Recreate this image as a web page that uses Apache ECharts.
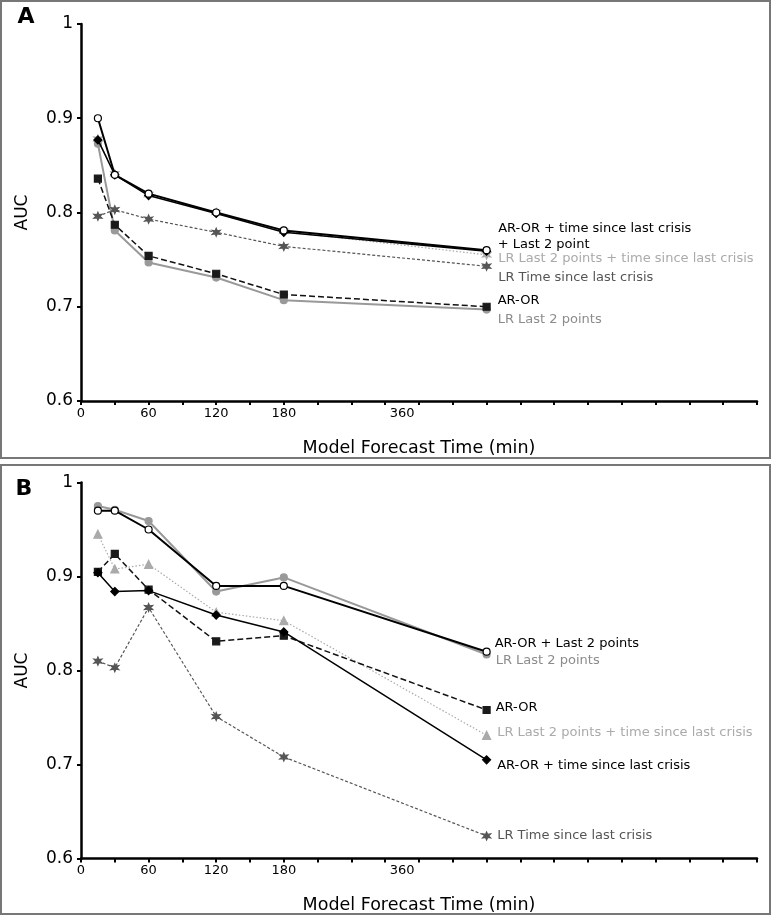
<!DOCTYPE html>
<html>
<head>
<meta charset="utf-8">
<script src="https://cdn.jsdelivr.net/npm/echarts@6/dist/echarts.min.js"></script>
<style>
html,body{margin:0;padding:0;background:#fff;}
#chart{width:772px;height:916px;}
</style>
</head>
<body>
<div id="chart"></div>
<script>
// ---- data ----
const timesMin = [15, 30, 60, 120, 180, 360];
const xTickLabelValues = [0, 60, 120, 180];
const displaced360Label = '360';

// Panel A
const a_arorLast2 = [0.900, 0.840, 0.820, 0.800, 0.781, 0.760];
const a_arorTime = [0.877, 0.840, 0.818, 0.799, 0.779, 0.759];
const a_lrLast2Time = [0.878, 0.841, 0.819, 0.800, 0.780, 0.755];
const a_lrTime = [0.796, 0.803, 0.793, 0.779, 0.764, 0.743];
const a_aror = [0.836, 0.787, 0.754, 0.735, 0.713, 0.700];
const a_lrLast2 = [0.873, 0.781, 0.747, 0.731, 0.707, 0.697];

// Panel B
const b_arorLast2 = [0.970, 0.970, 0.950, 0.890, 0.890, 0.820];
const b_lrLast2 = [0.975, 0.971, 0.959, 0.884, 0.899, 0.817];
const b_lrLast2Time = [0.945, 0.908, 0.913, 0.862, 0.853, 0.731];
const b_aror = [0.905, 0.924, 0.886, 0.831, 0.837, 0.758];
const b_arorTime = [0.904, 0.884, 0.885, 0.859, 0.841, 0.705];
const b_lrTime = [0.810, 0.803, 0.867, 0.751, 0.708, 0.624];

// ---- styling helpers ----
const FONT = 'DejaVu Sans';
function starPath(n, inner) {
  let d = '';
  for (let i = 0; i < n * 2; i++) {
    const r = i % 2 === 0 ? 1 : inner;
    const a = Math.PI / 2 + i * Math.PI / n;
    const x = (r * Math.cos(a)).toFixed(3), y = (-r * Math.sin(a)).toFixed(3);
    d += (i === 0 ? 'M' : 'L') + x + ' ' + y + ' ';
  }
  return 'path://' + d + 'Z';
}
const STAR = starPath(6, 0.45);

const ST = {
  arorLast2: {symbol: 'circle', size: 7, fill: '#fff', border: '#000', line: '#000', width: 2, type: 'solid', z: 6},
  arorTime: {symbol: 'diamond', size: 8, fill: '#000', border: '#000', line: '#000', width: 1.5, type: 'solid', z: 5},
  aror: {symbol: 'rect', size: 7, fill: '#1a1a1a', border: '#1a1a1a', line: '#111', width: 1.5, type: [6, 3], z: 4},
  lrTime: {symbol: STAR, size: 8, fill: '#555', border: '#555', line: '#555', width: 1.2, type: [3, 2], z: 3},
  lrLast2Time: {symbol: 'triangle', size: 8, fill: '#aaa', border: '#aaa', line: '#aaa', width: 1.2, type: [1.5, 2], z: 2},
  lrLast2: {symbol: 'circle', size: 7, fill: '#999', border: '#999', line: '#999', width: 2, type: 'solid', z: 1}
};

function mkSeries(grid, key, vals, text, labelColor, dist, dy, symOverride) {
  const s = ST[key];
  return {
    type: 'line',
    xAxisIndex: grid === 0 ? 0 : 2,
    yAxisIndex: grid,
    data: timesMin.map((t, i) => [t, vals[i]]),
    symbol: symOverride || s.symbol,
    symbolSize: s.size,
    showSymbol: true,
    z: s.z,
    itemStyle: {color: s.fill, borderColor: s.border, borderWidth: 1.2},
    lineStyle: {color: s.line, width: s.width, type: s.type},
    label: {
      show: true, position: 'right', distance: dist, offset: [0, dy],
      formatter: p => p.dataIndex === timesMin.length - 1 ? text : '',
      color: labelColor, fontFamily: FONT, fontSize: 13
    },
    animation: false
  };
}

function mainX(gridIndex) {
  return {
    type: 'value', gridIndex, min: 0, max: 600, interval: 30, position: 'bottom',
    name: 'Model Forecast Time (min)', nameLocation: 'middle', nameGap: 38,
    nameTextStyle: {fontFamily: FONT, fontSize: 17.5, color: '#000'},
    axisLine: {show: true, onZero: false, lineStyle: {color: '#000', width: 2.5}},
    axisTick: {show: true, length: 4, lineStyle: {color: '#000', width: 2}},
    axisLabel: {
      show: true, margin: 6, fontFamily: FONT, fontSize: 13, color: '#000',
      formatter: v => xTickLabelValues.indexOf(v) >= 0 ? String(v) : ''
    },
    splitLine: {show: false}
  };
}
function labelX(gridIndex) {
  return {
    type: 'value', gridIndex, min: 0, max: 600, interval: 15, position: 'bottom',
    axisLine: {show: false}, axisTick: {show: false}, splitLine: {show: false},
    axisLabel: {
      show: true, margin: 6, fontFamily: FONT, fontSize: 13, color: '#000',
      formatter: v => v === 285 ? displaced360Label : ''
    }
  };
}
function mainY(gridIndex) {
  return {
    type: 'value', gridIndex, min: 0.6, max: 1, interval: 0.1,
    name: 'AUC', nameLocation: 'middle', nameGap: 50, nameRotate: 90,
    nameTextStyle: {fontFamily: FONT, fontSize: 17, color: '#000'},
    axisLine: {show: true, onZero: false, lineStyle: {color: '#000', width: 2.5}},
    axisTick: {show: true, length: 4, lineStyle: {color: '#000', width: 2}},
    axisLabel: {
      margin: 8, fontFamily: FONT, fontSize: 17, color: '#000',
      formatter: v => Math.abs(v - 1) < 1e-9 ? '1' : v.toFixed(1)
    },
    splitLine: {show: false}
  };
}

const option = {
  backgroundColor: '#fff',
  animation: false,
  grid: [
    {left: 81, top: 24, width: 676, height: 377},
    {left: 81, top: 482.5, width: 676, height: 376}
  ],
  xAxis: [mainX(0), labelX(0), mainX(1), labelX(1)],
  yAxis: [mainY(0), mainY(1)],
  graphic: [
    {type: 'rect', shape: {x: 1, y: 1, width: 769, height: 457}, style: {fill: 'none', stroke: '#777', lineWidth: 2}, silent: true},
    {type: 'rect', shape: {x: 1, y: 465, width: 769, height: 449}, style: {fill: 'none', stroke: '#777', lineWidth: 2}, silent: true},
    {type: 'text', x: 26, y: 17, style: {text: 'A', font: 'bold 22px "DejaVu Sans"', fill: '#000', align: 'center', verticalAlign: 'middle'}},
    {type: 'text', x: 24, y: 489, style: {text: 'B', font: 'bold 22px "DejaVu Sans"', fill: '#000', align: 'center', verticalAlign: 'middle'}}
  ],
  series: [
    // Panel A
    mkSeries(0, 'lrLast2', a_lrLast2, 'LR Last 2 points', '#8c8c8c', 7, 10),
    mkSeries(0, 'lrLast2Time', a_lrLast2Time, 'LR Last 2 points + time since last crisis', '#aaa', 7, 4, STAR),
    mkSeries(0, 'lrTime', a_lrTime, 'LR Time since last crisis', '#555', 7, 11),
    mkSeries(0, 'aror', a_aror, 'AR-OR', '#000', 7, -6),
    mkSeries(0, 'arorTime', a_arorTime, 'AR-OR + time since last crisis', '#000', 7, -23),
    mkSeries(0, 'arorLast2', a_arorLast2, '+ Last 2 point', '#000', 7, -6),
    // Panel B
    mkSeries(1, 'lrLast2', b_lrLast2, 'LR Last 2 points', '#8c8c8c', 5, 6),
    mkSeries(1, 'lrLast2Time', b_lrLast2Time, 'LR Last 2 points + time since last crisis', '#aaa', 6, -3),
    mkSeries(1, 'lrTime', b_lrTime, 'LR Time since last crisis', '#555', 6, 0),
    mkSeries(1, 'aror', b_aror, 'AR-OR', '#000', 5, -2),
    mkSeries(1, 'arorTime', b_arorTime, 'AR-OR + time since last crisis', '#000', 6, 6),
    mkSeries(1, 'arorLast2', b_arorLast2, 'AR-OR + Last 2 points', '#000', 4, -8)
  ]
};

const chart = echarts.init(document.getElementById('chart'), null, {renderer: 'canvas'});
chart.setOption(option);
</script>
</body>
</html>
